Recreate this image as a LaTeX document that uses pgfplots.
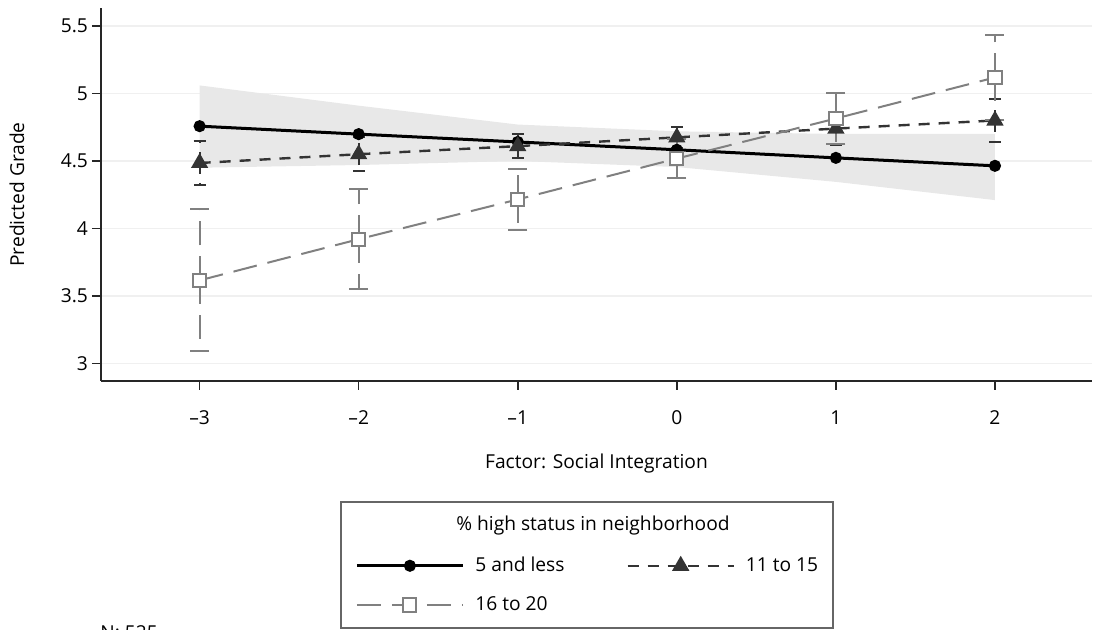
\documentclass[border=0pt]{standalone}
\usepackage{fontspec}
\setmainfont{Open Sans}
\usepackage{pgfplots}
\pgfplotsset{compat=1.18}
\newcommand\px[2]{([shift={({(#1-101)*0.5pt},{(381-#2)*0.5pt})}]O)}
\begin{document}
\begin{tikzpicture}[font=\fontsize{9.6pt}{11.5pt}\selectfont]
\begin{axis}[
  scale only axis, width=495.5pt, height=186.5pt,
  xmin=-3.62, xmax=2.61, ymin=2.869, ymax=5.634,
  axis lines=left, axis line style={line width=0.8pt, -, black!85},
  xtick={-3,-2,-1,0,1,2}, xticklabels={–3,–2,–1,0,1,2},
  ytick={3,3.5,4,4.5,5,5.5}, yticklabels={3,3.5,4,4.5,5,5.5},
  xticklabel style={yshift=-7pt},
  yticklabel style={xshift=1.5pt},
  tick align=outside, major tick length=4.5pt,
  tick style={line width=0.8pt, black!85},
  ymajorgrids, grid style={gray!12, line width=0.8pt},
  xlabel={Factor: Social Integration}, ylabel={Predicted Grade},
  xlabel style={at={(axis description cs:0.5,-0.2225)}, anchor=center},
  ylabel style={at={(axis description cs:-0.0848,0.5)}, anchor=center},
  legend columns=2,
  legend style={at={(axis description cs:0.2563,-0.4600)}, anchor=north west,
    draw=none, fill=none, inner sep=0pt,
    /tikz/every odd column/.append style={column sep=3.5pt},
    /tikz/every even column/.append style={column sep=29pt},
    /tikz/row sep=7pt,
    cells={anchor=west}, font=\fontsize{9.6pt}{11.5pt}\selectfont},
  legend image code/.code={\draw[mark repeat=2,mark phase=2,#1] plot coordinates {(0pt,0pt)(26.5pt,0pt)(53pt,0pt)};},
]
\coordinate (O) at (axis description cs:0,0);
% confidence band for "5 and less"
\addplot[fill=gray!18, draw=none, forget plot] coordinates {
  (-3,5.06)(-2,4.91)(-1,4.77)(0,4.72)(1,4.70)(2,4.70)
  (2,4.21)(1,4.345)(0,4.455)(-1,4.50)(-2,4.47)(-3,4.45)} --cycle;
% 5 and less
\addplot[black, line width=1.5pt, mark=*, mark size=2.25pt] coordinates {
  (-3,4.758)(-2,4.699)(-1,4.641)(0,4.583)(1,4.523)(2,4.464)};
\addlegendentry{5 and less}
% 11 to 15
\addplot[black!80, line width=1.2pt, dash pattern=on 5.5pt off 4.5pt,
  mark=triangle*, mark size=3.8pt, mark options={solid},
  error bars/.cd, y dir=both, y explicit,
  error mark options={rotate=90, solid, mark size=3pt, line width=1pt, black!80},
  error bar style={line width=1pt, black!80}] coordinates {
  (-3,4.485) +- (0,0.163)
  (-2,4.55) +- (0,0.124)
  (-1,4.61) +- (0,0.087)
  (0,4.675) +- (0,0.08)
  (1,4.74) +- (0,0.12)
  (2,4.80) +- (0,0.157)};
\addlegendentry{11 to 15}
% 16 to 20
\addplot[gray, line width=1pt, dash pattern=on 12pt off 5.5pt,
  mark=square*, mark size=3.3pt, mark options={solid, fill=white, draw=gray},
  error bars/.cd, y dir=both, y explicit,
  error mark options={rotate=90, solid, mark size=4.75pt, line width=1pt, gray},
  error bar style={line width=1pt, gray}] coordinates {
  (-3,3.615) +- (0,0.527)
  (-2,3.92) +- (0,0.371)
  (-1,4.215) +- (0,0.228)
  (0,4.518) +- (0,0.145)
  (1,4.815) +- (0,0.19)
  (2,5.119) +- (0,0.314)};
\addlegendentry{16 to 20}
\end{axis}
\draw[black!60, line width=0.7pt] \px{341}{502} rectangle \px{833}{628};
\node[anchor=center, inner sep=0pt] at \px{593}{526} {\% high status in neighborhood};
\node[anchor=north west, inner sep=0pt] at \px{100}{625} {N: 525};
\pgfresetboundingbox
\useasboundingbox \px{0}{0} rectangle \px{1098}{630};
\end{tikzpicture}
\end{document}
